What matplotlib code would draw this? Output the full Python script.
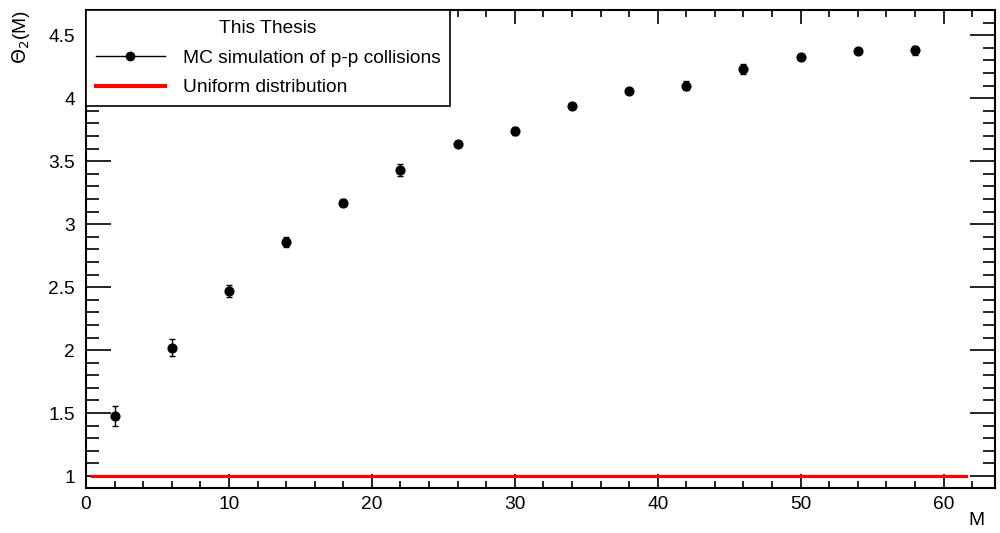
import matplotlib
matplotlib.use("Agg")
import matplotlib.pyplot as plt
from matplotlib.lines import Line2D
from matplotlib.ticker import MultipleLocator

plt.rcParams['font.family'] = ['Liberation Sans', 'DejaVu Sans']

# data
m_values = [2, 6, 10, 14, 18, 22, 26, 30, 34, 38, 42, 46, 50, 54, 58]
theta2 = [1.476, 2.02, 2.47, 2.86, 3.17, 3.43, 3.635, 3.74, 3.94, 4.06, 4.10, 4.235, 4.325, 4.375, 4.38]
theta2_err = [0.08, 0.065, 0.045, 0.04, 0.028, 0.045, 0.012, 0.03, 0.012, 0.012, 0.035, 0.04, 0.012, 0.012, 0.035]
uniform_x = [0.4, 61.6]
uniform_y = [1.0, 1.0]

FS = 13.8

fig = plt.figure(figsize=(10, 5.33), dpi=100)
ax = fig.add_axes([0.086, 0.0844, 0.909, 0.8966])

ax.plot(uniform_x, uniform_y, color='#ff0000', lw=2.3, zorder=2)
ax.errorbar(m_values, theta2, yerr=theta2_err, fmt='o', color='black', ms=6.3,
            ecolor='black', elinewidth=1, capsize=2, capthick=1, zorder=3)

ax.set_xlim(0, 63.6)
ax.set_ylim(0.905, 4.70)

ax.xaxis.set_major_locator(MultipleLocator(10))
ax.xaxis.set_minor_locator(MultipleLocator(2))
ax.yaxis.set_major_locator(MultipleLocator(0.5))
ax.yaxis.set_minor_locator(MultipleLocator(0.1))
ax.yaxis.set_major_formatter(plt.FuncFormatter(lambda v, p: f'{v:g}'))

ax.tick_params(axis='both', which='both', direction='in', top=True, right=True,
               labelsize=FS, width=1.2, colors='black')
ax.tick_params(axis='x', which='major', length=10, pad=6)
ax.tick_params(axis='x', which='minor', length=5)
ax.tick_params(axis='y', which='major', length=18, pad=8)
ax.tick_params(axis='y', which='minor', length=9)
for s in ax.spines.values():
    s.set_linewidth(1.5)

fig.text(0.985, 0.008, 'M', fontsize=FS, ha='right', va='bottom')
fig.text(0.01, 0.981, r'$\Theta_2$(M)', fontsize=FS, rotation=90, ha='left', va='top',
         math_fontfamily='dejavusans')

handles = [
    Line2D([], [], color='black', lw=1, marker='o', ms=6),
    Line2D([], [], color='#ff0000', lw=3),
]
labels = ['MC simulation of p-p collisions', 'Uniform distribution']
leg = ax.legend(handles, labels, title='This Thesis', loc='upper left',
                bbox_to_anchor=(0.0, 1.0), fontsize=FS, title_fontsize=FS,
                frameon=True, fancybox=False, framealpha=1, borderaxespad=0,
                handlelength=3.6, borderpad=0.5, labelspacing=0.65, handletextpad=0.95)
leg.get_frame().set_edgecolor('black')
leg.get_frame().set_linewidth(1.2)
leg.set_zorder(10)

fig.savefig('out.png', dpi=100)
